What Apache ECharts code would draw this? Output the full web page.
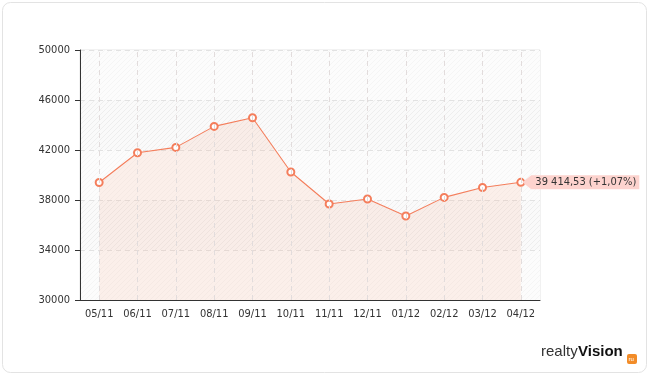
<!DOCTYPE html>
<html>
<head>
<meta charset="utf-8">
<script src="https://cdn.jsdelivr.net/npm/echarts@6/dist/echarts.min.js"></script>
<style>
html,body{margin:0;padding:0;background:#fff;}
#chart{width:650px;height:375px;}
</style>
</head>
<body>
<div id="chart"></div>
<script>
const categories = ['05/11','06/11','07/11','08/11','09/11','10/11','11/11','12/11','01/12','02/12','03/12','04/12'];
const values = [39400, 41780, 42210, 43890, 44580, 40240, 37680, 38080, 36720, 38210, 38997.6, 39414.53];
const yTicks = [30000, 34000, 38000, 42000, 46000, 50000];

function hatch(base, line) {
  const c = document.createElement('canvas');
  c.width = 5; c.height = 5;
  const ctx = c.getContext('2d');
  ctx.fillStyle = base; ctx.fillRect(0, 0, 5, 5);
  ctx.strokeStyle = line; ctx.lineWidth = 1;
  ctx.beginPath();
  ctx.moveTo(-1, 6); ctx.lineTo(6, -1);
  ctx.moveTo(-1, 1); ctx.lineTo(1, -1);
  ctx.moveTo(4, 6); ctx.lineTo(6, 4);
  ctx.stroke();
  return { image: c, repeat: 'repeat' };
}

function fmt(v) {
  const parts = v.toFixed(2).split('.');
  return parts[0].replace(/\B(?=(\d{3})+(?!\d))/g, ' ') + ',' + parts[1];
}
const last = values[values.length - 1];
const prev = values[values.length - 2];
const pct = (last / prev - 1) * 100;
const tagText = fmt(last) + ' (' + (pct >= 0 ? '+' : '') + pct.toFixed(2).replace('.', ',') + '%)';

const font = '"DejaVu Sans Condensed", "DejaVu Sans", sans-serif';
const lineColor = '#f47e5c';

const chart = echarts.init(document.getElementById('chart'));
chart.setOption({
  backgroundColor: '#fff',
  animation: false,
  grid: { left: 80, top: 50, right: 110, bottom: 75, show: true, borderColor: '#e4e4e4', borderWidth: 1, backgroundColor: 'transparent' },
  xAxis: {
    type: 'category',
    data: categories,
    boundaryGap: true,
    axisLine: { lineStyle: { color: '#333', width: 1 } },
    axisTick: { alignWithLabel: true, length: 5, lineStyle: { color: '#333' } },
    axisLabel: { color: '#333', fontSize: 11, fontFamily: font, margin: 9 },
    splitLine: { show: false }
  },
  yAxis: {
    type: 'value',
    min: yTicks[0],
    max: yTicks[yTicks.length - 1],
    interval: yTicks[1] - yTicks[0],
    axisLine: { show: true, lineStyle: { color: '#333', width: 1 } },
    axisTick: { show: true, length: 5, lineStyle: { color: '#333' } },
    axisLabel: { color: '#333', fontSize: 11, fontFamily: font, margin: 10, formatter: v => String(v) },
    splitLine: { show: true, lineStyle: { color: '#e2e2e2', type: [5, 4] } },
    splitArea: { show: true, areaStyle: { color: [hatch('#fcfcfc', '#f5f5f5'), hatch('#fafafa', '#eeeeee')] } }
  },
  graphic: [
    { type: 'rect', z: -10, shape: { x: 2.5, y: 2.5, width: 644, height: 370, r: 8 }, style: { fill: 'none', stroke: '#e3e3e3', lineWidth: 1 } },
    { type: 'text', left: 541, top: 344, style: { text: 'realty', font: '15px "Liberation Sans", Arial, sans-serif', fill: '#333' } },
    { type: 'text', left: 578, top: 344, style: { text: 'Vision', font: 'bold 15px "Liberation Sans", Arial, sans-serif', fill: '#111' } },
    { type: 'rect', shape: { x: 627, y: 354, width: 10, height: 10, r: 2 }, style: { fill: '#f28c28' } },
    { type: 'text', left: 628.5, top: 356, style: { text: 'ru', font: '6px sans-serif', fill: '#fff' } }
  ],
  series: [{
    type: 'line',
    data: values,
    symbol: 'emptyCircle',
    symbolSize: 7,
    showAllSymbol: true,
    lineStyle: { color: lineColor, width: 1.1 },
    itemStyle: { color: lineColor, borderColor: lineColor, borderWidth: 1 },
    areaStyle: { color: 'rgba(245,160,130,0.2)' },
    markLine: {
      silent: true,
      symbol: 'none',
      label: { show: false },
      lineStyle: { color: '#e2dcdc', type: [5, 4], width: 1 },
      data: categories.map(c => ({ xAxis: c }))
    },
    markPoint: {
      silent: true,
      symbol: 'path://M0,7 L9,0 L117,0 L117,14 L9,14 Z',
      symbolSize: [117, 14],
      symbolKeepAspect: false,
      symbolOffset: [60, 0],
      itemStyle: { color: '#fdd3ce' },
      label: { show: true, position: 'inside', offset: [5, 0], color: '#333', fontSize: 11, fontFamily: font, formatter: tagText },
      data: [{ coord: [categories[categories.length - 1], last] }]
    }
  }]
});
</script>
</body>
</html>
